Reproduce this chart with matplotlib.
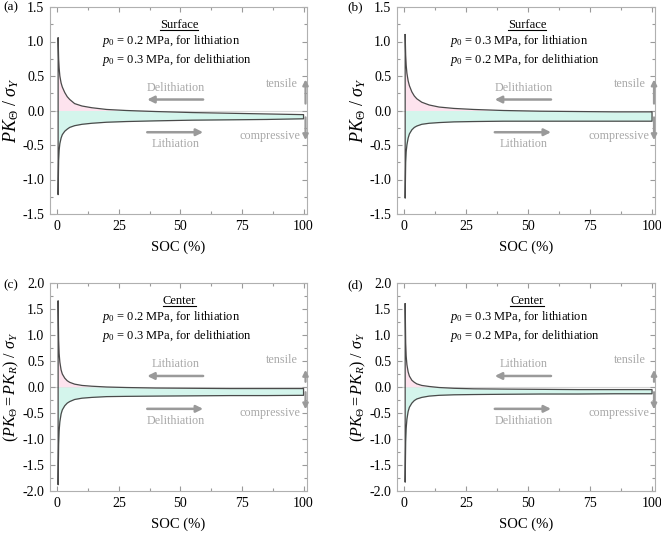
import numpy as np
import matplotlib
matplotlib.use("Agg")
import matplotlib.pyplot as plt
from matplotlib.ticker import MultipleLocator, AutoMinorLocator, FormatStrFormatter
from matplotlib.lines import Line2D

plt.rcParams['font.family'] = ['Liberation Serif', 'DejaVu Serif']
plt.rcParams['mathtext.fontset'] = 'custom'
plt.rcParams['mathtext.rm'] = 'Liberation Serif'
plt.rcParams['mathtext.it'] = 'Liberation Serif:italic'
plt.rcParams['mathtext.bf'] = 'Liberation Serif:bold'

# SOC grid (%) shared by all curves
soc = [0.3, 0.5, 0.7, 1, 1.5, 2, 3, 4, 5, 7, 10, 14, 20, 28, 40, 55, 70, 85, 100]

# (a) surface, p0 = 0.2 lith / 0.3 delith
a_up = [1.05, 0.75, 0.62, 0.50, 0.40, 0.34, 0.26, 0.20, 0.16, 0.10, 0.065, 0.04, 0.015, 0.0,
        -0.015, -0.03, -0.04, -0.05, -0.06]
a_lo = [-1.22, -0.72, -0.58, -0.48, -0.40, -0.35, -0.30, -0.27, -0.245, -0.22, -0.20, -0.185,
        -0.17, -0.16, -0.15, -0.14, -0.135, -0.13, -0.12]
# (b) surface, p0 = 0.3 lith / 0.2 delith
b_up = [1.10, 0.80, 0.66, 0.54, 0.43, 0.36, 0.27, 0.21, 0.17, 0.12, 0.08, 0.05, 0.03, 0.015,
        0.0, -0.01, -0.015, -0.02, -0.02]
b_lo = [-1.27, -0.75, -0.60, -0.50, -0.40, -0.34, -0.28, -0.245, -0.225, -0.20, -0.185, -0.175,
        -0.165, -0.16, -0.155, -0.155, -0.155, -0.155, -0.155]
# (c) center, p0 = 0.2 lith / 0.3 delith
c_up = [1.65, 0.90, 0.65, 0.48, 0.33, 0.25, 0.17, 0.12, 0.09, 0.055, 0.03, 0.015, 0.0, -0.01,
        -0.02, -0.025, -0.03, -0.03, -0.03]
c_lo = [-1.88, -1.10, -0.85, -0.67, -0.52, -0.44, -0.36, -0.31, -0.28, -0.24, -0.215, -0.20,
        -0.185, -0.18, -0.175, -0.17, -0.165, -0.165, -0.16]
# (d) center, p0 = 0.3 lith / 0.2 delith
d_up = [1.60, 0.85, 0.60, 0.43, 0.29, 0.21, 0.13, 0.09, 0.06, 0.03, 0.01, -0.01, -0.025, -0.035,
        -0.04, -0.045, -0.05, -0.05, -0.05]
d_lo = [-1.83, -1.05, -0.80, -0.62, -0.47, -0.39, -0.31, -0.26, -0.23, -0.20, -0.175, -0.16,
        -0.15, -0.145, -0.14, -0.135, -0.135, -0.13, -0.13]

panels = [
    dict(up=a_up, lo=a_lo, title='Surface', p_li='0.2', p_de='0.3',
         top_lab='Delithiation', bot_lab='Lithiation', ylim=(-1.5, 1.5),
         ylabel=r'$PK_{\Theta}$ / $\sigma_Y$', ylsize=13),
    dict(up=b_up, lo=b_lo, title='Surface', p_li='0.3', p_de='0.2',
         top_lab='Delithiation', bot_lab='Lithiation', ylim=(-1.5, 1.5),
         ylabel=r'$PK_{\Theta}$ / $\sigma_Y$', ylsize=13),
    dict(up=c_up, lo=c_lo, title='Center', p_li='0.2', p_de='0.3',
         top_lab='Lithiation', bot_lab='Delithiation', ylim=(-2.0, 2.0),
         ylabel=r'$(PK_{\Theta} = PK_R)$ / $\sigma_Y$', ylsize=11.5),
    dict(up=d_up, lo=d_lo, title='Center', p_li='0.3', p_de='0.2',
         top_lab='Lithiation', bot_lab='Delithiation', ylim=(-2.0, 2.0),
         ylabel=r'$(PK_{\Theta} = PK_R)$ / $\sigma_Y$', ylsize=11.5),
]

W, H = 661, 533
boxes = [(50, 7, 306.5, 214), (397, 7, 655, 214),
         (50, 283, 306.5, 491), (397, 283, 655, 491)]

fig = plt.figure(figsize=(W / 100, H / 100), dpi=100)
gray = '#9a9a9a'
txtgray = '#a8a8a8'
line_c = '#4a4a4a'

titles = []
for p, (x0, y0, x1, y1) in zip(panels, boxes):
    ax = fig.add_axes([x0 / W, 1 - y1 / H, (x1 - x0) / W, (y1 - y0) / H])
    x = np.array(soc)
    up = np.array(p['up'])
    lo = np.array(p['lo'])

    ax.axhline(0, color='#d8d8d8', lw=0.8, zorder=1)
    ax.fill_between(x, 0, up, where=up > 0, interpolate=True, color='#fde3ee', lw=0, zorder=2)
    ax.fill_between(x, lo, np.minimum(up, 0), color='#d4f5ec', lw=0, zorder=2)
    loop_x = np.concatenate([x, x[::-1], x[:1]])
    loop_y = np.concatenate([up, lo[::-1], up[:1]])
    ax.plot(loop_x, loop_y, color=line_c, lw=0.9, zorder=3)

    ymin, ymax = p['ylim']
    ax.set_xlim(-3, 101.2)
    ax.set_ylim(ymin, ymax)
    ax.xaxis.set_major_locator(MultipleLocator(25))
    ax.xaxis.set_minor_locator(AutoMinorLocator(2))
    ax.yaxis.set_major_locator(MultipleLocator(0.5))
    ax.yaxis.set_minor_locator(AutoMinorLocator(2))
    ax.yaxis.set_major_formatter(FormatStrFormatter('%.1f'))
    ax.tick_params(which='both', direction='in', top=True, right=True, color=gray,
                   labelsize=10, width=0.8)
    ax.tick_params(which='major', length=3.5, pad=4)
    ax.tick_params(which='minor', length=2)
    for s in ax.spines.values():
        s.set_color('#b0b0b0')
        s.set_linewidth(0.8)
    ax.set_xlabel('SOC (%)', fontsize=10.5, labelpad=6)
    ax.set_ylabel(p['ylabel'], fontsize=p['ylsize'], labelpad=1)

    big = ymax > 1.6
    tr = ax.get_xaxis_transform()  # x in data, y in axes fraction
    t = ax.text(49.5, 0.912, p['title'], transform=tr,
                ha='center', va='center', fontsize=9)
    titles.append(t)
    ax.text(18.3, 0.836, r'$p_0$ = ' + p['p_li'] + ' MPa, for lithiation',
            transform=tr, ha='left', va='center', fontsize=9)
    ax.text(18.3, 0.745, r'$p_0$ = ' + p['p_de'] + ' MPa, for delithiation',
            transform=tr, ha='left', va='center', fontsize=9)

    # direction arrows
    ax.text(48.2, 0.61, p['top_lab'], transform=tr,
            ha='center', va='center', fontsize=8.7, color=txtgray)
    ax.annotate('', xy=(36.5, 0.553), xytext=(59.2, 0.553), xycoords=tr,
                arrowprops=dict(arrowstyle='-|>', color=gray, lw=1.8, mutation_scale=10,
                                shrinkA=0, shrinkB=0))
    ax.annotate('', xy=(59.2, 0.395), xytext=(36.5, 0.395), xycoords=tr,
                arrowprops=dict(arrowstyle='-|>', color=gray, lw=1.8, mutation_scale=10,
                                shrinkA=0, shrinkB=0))
    ax.text(48.2, 0.338, p['bot_lab'], transform=tr,
            ha='center', va='center', fontsize=8.7, color=txtgray)

    # tensile / compressive
    ax.text(97.5, 0.628, 'tensile', transform=tr,
            ha='right', va='center', fontsize=8.7, color=txtgray)
    ax.text(98.8, 0.377, 'compressive', transform=tr,
            ha='right', va='center', fontsize=8.7, color=txtgray)
    up_top = 0.33 if big else 0.45
    ax.annotate('', xy=(100.8, up_top), xytext=(100.8, 0.1),
                arrowprops=dict(arrowstyle='-|>', color=gray, lw=1.6, mutation_scale=8,
                                shrinkA=0, shrinkB=0), annotation_clip=False)
    ax.annotate('', xy=(100.8, -0.43), xytext=(100.8, -0.1),
                arrowprops=dict(arrowstyle='-|>', color=gray, lw=1.6, mutation_scale=8,
                                shrinkA=0, shrinkB=0), annotation_clip=False)

# panel tags
fig.text(3 / W, 1 - 7 / H, '(a)', ha='left', va='center', fontsize=9.5)
fig.text(347 / W, 1 - 7 / H, '(b)', ha='left', va='center', fontsize=9.5)
fig.text(3 / W, 1 - 285 / H, '(c)', ha='left', va='center', fontsize=9.5)
fig.text(347 / W, 1 - 285 / H, '(d)', ha='left', va='center', fontsize=9.5)

# underline the panel titles
fig.canvas.draw()
r = fig.canvas.get_renderer()
for t in titles:
    bb = t.get_window_extent(renderer=r)
    yline = bb.y0 + 1.5
    fig.add_artist(Line2D([bb.x0 / W, bb.x1 / W], [yline / H, yline / H],
                          color='black', lw=0.8, transform=fig.transFigure))

fig.savefig('out.png', dpi=100)
